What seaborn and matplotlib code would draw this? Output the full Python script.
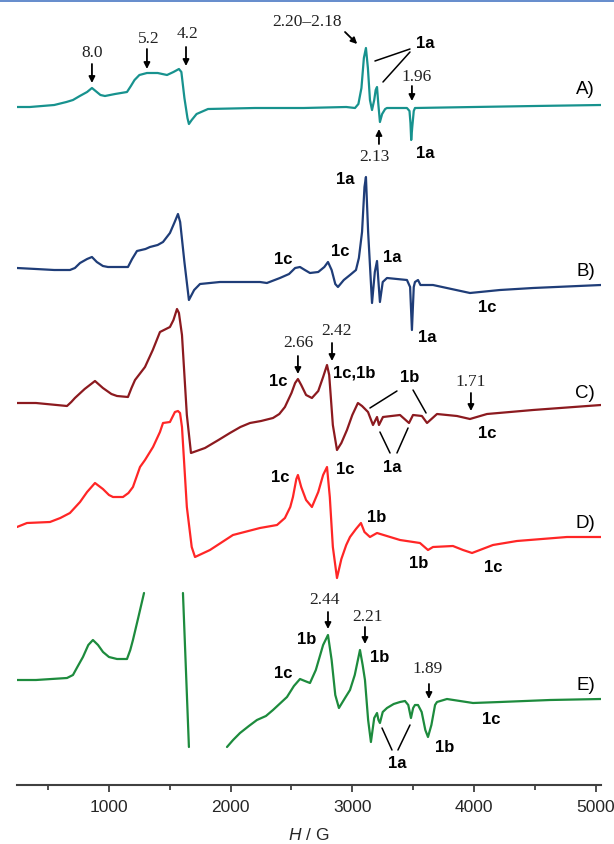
import numpy as np
import pandas as pd
import matplotlib
matplotlib.use("Agg")
import matplotlib.pyplot as plt
from matplotlib.lines import Line2D
import seaborn as sns

# EPR spectra A-E, field in G, signal in arbitrary units (relative to each baseline)
field_A = [244, 350, 450, 550, 650, 704, 760, 820, 860, 890, 930, 967, 1050, 1148, 1180, 1210, 1250, 1312,
           1400, 1477, 1530, 1575, 1595, 1620, 1645, 1657, 1680, 1720, 1814, 2200, 2600, 2950, 3022, 3050,
           3075, 3095, 3112, 3128, 3145, 3162, 3180, 3192, 3203, 3213, 3227, 3245, 3270, 3285, 3449, 3470,
           3478, 3484, 3492, 3505, 3515, 4000, 4500, 5044]
sig_A = [1, 1, 2, 3, 6, 8, 12, 16, 20, 17, 13, 12, 14, 16, 22, 28, 33, 35,
         35, 33, 36, 39, 36, 10, -10, -16, -12, -6, -1, 0, 0, 1, 0, 4,
         20, 50, 60, 40, 8, -2, 8, 18, 21, 5, -14, -6, -1, 0, 0, -3,
         -15, -32, -20, -3, 0, 1, 2, 3]

field_B = [244, 400, 550, 679, 720, 762, 820, 860, 900, 950, 992, 1100, 1156, 1190, 1230, 1300, 1337, 1400,
           1444, 1501, 1540, 1567, 1585, 1620, 1657, 1700, 1748, 1912, 2241, 2298, 2405, 2480, 2530, 2570,
           2610, 2652, 2720, 2770, 2800, 2830, 2860, 2882, 2930, 2981, 3030, 3054, 3080, 3100, 3112, 3130,
           3162, 3185, 3203, 3215, 3227, 3250, 3285, 3449, 3475, 3490, 3505, 3515, 3540, 3560, 3663, 3967,
           4214, 4485, 5044]
sig_B = [14, 13, 12, 12, 14, 19, 23, 25, 20, 16, 15, 15, 15, 23, 31, 33, 35, 37,
         40, 49, 60, 68, 60, 20, -18, -8, -2, 0, 0, -1, 4, 8, 14, 15,
         12, 9, 10, 15, 20, 12, -2, -5, 2, 7, 12, 24, 50, 95, 105, 50,
         -21, 10, 21, 0, -20, 0, 4, 2, -5, -48, -5, 0, 2, -3, -3, -11,
         -8, -6, -3]

field_C = [244, 400, 655, 690, 720, 800, 885, 950, 1020, 1066, 1156, 1185, 1214, 1296, 1360, 1419, 1501,
           1530, 1559, 1575, 1600, 1640, 1674, 1720, 1789, 1900, 1994, 2080, 2159, 2250, 2348, 2400, 2446,
           2500, 2530, 2553, 2580, 2620, 2668, 2720, 2760, 2792, 2810, 2840, 2874, 2910, 2956, 3000, 3046,
           3080, 3129, 3170, 3203, 3219, 3252, 3392, 3466, 3499, 3572, 3614, 3696, 3860, 3967, 4107, 4485,
           5044]
sig_C = [2, 2, -1, 3, 7, 16, 24, 17, 11, 9, 8, 17, 25, 38, 55, 73, 78,
         85, 96, 92, 70, -10, -48, -46, -43, -35, -28, -22, -18, -16, -13, -9, -2,
         12, 22, 26, 20, 10, 7, 14, 28, 40, 30, -20, -45, -38, -25, -10, 2,
         -1, -7, -20, -12, -20, -12, -10, -18, -10, -11, -18, -9, -11, -14, -9, -5,
         0]

field_D = [244, 326, 515, 600, 679, 762, 820, 885, 950, 1000, 1033, 1115, 1160, 1197, 1255, 1296, 1362,
           1419, 1444, 1501, 1542, 1567, 1584, 1600, 1640, 1680, 1707, 1830, 2019, 2241, 2381, 2446, 2490,
           2512, 2540, 2553, 2580, 2620, 2668, 2720, 2760, 2792, 2815, 2840, 2874, 2910, 2950, 2981, 3030,
           3071, 3100, 3145, 3203, 3392, 3556, 3622, 3663, 3827, 3910, 3984, 4156, 4353, 4764, 5044]
sig_D = [10, 14, 15, 19, 24, 35, 45, 54, 48, 42, 40, 40, 44, 50, 70, 77, 90,
         105, 114, 115, 125, 126, 124, 110, 30, -10, -20, -13, 2, 9, 12, 19, 30,
         40, 58, 62, 50, 37, 30, 45, 62, 70, 40, -10, -41, -22, -8, 0, 8,
         14, 5, 0, 4, -3, -6, -13, -10, -9, -13, -16, -8, -4, 0, 0]

# trace E is cut off around the strong 4.2 line: three separate pieces
field_E = [244, 400, 655, 704, 740, 786, 830, 868, 910, 951, 1000, 1066, 1148, 1175, 1197, 1240, 1288,
           1608, 1657,
           1970, 2020, 2077, 2150, 2216, 2290, 2348, 2410, 2463, 2520, 2570, 2610, 2652, 2700, 2760, 2800,
           2830, 2860, 2890, 2940, 2981, 3020, 3063, 3085, 3104, 3130, 3153, 3180, 3203, 3215, 3227, 3250,
           3285, 3340, 3392, 3433, 3460, 3482, 3500, 3515, 3540, 3570, 3600, 3622, 3650, 3680, 3696, 3778,
           3992, 4214, 4625, 5044]
sig_E = [20, 20, 22, 25, 33, 43, 55, 60, 55, 48, 43, 41, 41, 50, 60, 82, 107,
         107, -47,
         -47, -40, -33, -26, -20, -16, -10, -3, 3, 14, 21, 19, 17, 30, 55, 65,
         40, 5, -8, 2, 10, 25, 50, 35, 20, -20, -42, -18, -13, -20, -23, -12,
         -8, -4, -2, -1, -5, -18, -8, -5, -5, -12, -30, -37, -25, -5, -2, 1,
         -3, -2, 0, 1]
seg_E = [0] * 17 + [1] * 2 + [2] * 52

names = ["A", "B", "C", "D", "E"]
offsets = [-108, -282, -405, -537, -700]
colors = ["#17928e", "#1f3d78", "#8c1a1f", "#ff2626", "#1d8b3d"]

frames = []
for name, f, s, off, seg in zip(names,
                                [field_A, field_B, field_C, field_D, field_E],
                                [sig_A, sig_B, sig_C, sig_D, sig_E],
                                offsets,
                                [None, None, None, None, seg_E]):
    d = pd.DataFrame({"field": f, "signal": np.array(s) + off})
    d["trace"] = name
    d["seg"] = seg if seg is not None else 0
    frames.append(d)
df = pd.concat(frames, ignore_index=True)

sns.set_theme(style="white")
plt.rcParams["font.family"] = ["Liberation Sans", "DejaVu Sans"]
plt.rcParams["mathtext.fontset"] = "custom"
plt.rcParams["mathtext.it"] = "Liberation Sans:italic"
plt.rcParams["mathtext.rm"] = "Liberation Sans"

fig = plt.figure(figsize=(6.14, 8.44), dpi=100)
ax = fig.add_axes([17 / 614, 59 / 844, 584 / 614, 785 / 844])

sns.lineplot(data=df, x="field", y="signal", hue="trace", units="seg", estimator=None,
             palette=dict(zip(names, colors)), sort=False, legend=False, lw=1.6, ax=ax)

ax.set_xlim(244, 5044)
ax.set_ylim(-785, 0)
for sp in ["left", "right", "top"]:
    ax.spines[sp].set_visible(False)
ax.spines["bottom"].set_color("#404040")
ax.spines["bottom"].set_linewidth(1.5)
ax.set_yticks([])
ax.set_xticks([1000, 2000, 3000, 4000, 5000])
ax.set_xticks([500, 1500, 2500, 3500, 4500], minor=True)
ax.tick_params(axis="x", which="major", direction="out", length=5, width=1.3, color="#404040",
               labelsize=12.5, pad=6, bottom=True)
ax.tick_params(axis="x", which="minor", direction="out", length=3.5, width=1.3, color="#404040", bottom=True)
ax.set_xlabel("$H$ / G", fontsize=12.5)
ax.xaxis.set_label_coords(0.5, -0.054)
ax.set_ylabel("")

serif = dict(family="Liberation Serif", fontsize=12.5, color="#222222", ha="center", va="center")
bold = dict(fontsize=12, fontweight="bold", color="black", ha="center", va="center")
letter = dict(fontsize=13.5, color="black", ha="right", va="center")
arr = dict(arrowstyle="-|>", color="black", lw=1.3, mutation_scale=9, shrinkA=0, shrinkB=0)
seg_kw = dict(color="black", lw=1.1)


def arrow(x0, y0, x1, y1):
    ax.annotate("", xy=(x1, y1), xytext=(x0, y0), arrowprops=arr)


def tie(x0, y0, x1, y1):
    ax.plot([x0, x1], [y0, y1], **seg_kw)


# A
ax.text(860, -53, "8.0", **serif)
arrow(860, -64, 860, -83)
ax.text(1329, -39, "5.2", **serif)
arrow(1312, -49, 1312, -69)
ax.text(1649, -34, "4.2", **serif)
arrow(1633, -47, 1633, -66)
ax.text(2627, -22, "2.20\u20132.18", **serif)
arrow(2940, -32, 3040, -44)
ax.text(3597, -44, "1a", **bold)
tie(3474, -49, 3186, -61)
tie(3474, -52, 3252, -82)
ax.text(3531, -77, "1.96", **serif)
arrow(3490, -86, 3490, -101)
ax.text(3178, -157, "2.13", **serif)
arrow(3219, -144, 3219, -129)
ax.text(3597, -154, "1a", **bold)
ax.text(4994, -90, "A)", **letter)

# B
ax.text(2940, -180, "1a", **bold)
ax.text(2430, -260, "1c", **bold)
ax.text(2898, -252, "1c", **bold)
ax.text(3326, -258, "1a", **bold)
ax.text(4994, -272, "B)", **letter)
ax.text(4107, -308, "1c", **bold)
ax.text(3614, -338, "1a", **bold)

# C
ax.text(2553, -343, "2.66", **serif)
arrow(2553, -356, 2553, -374)
ax.text(2389, -382, "1c", **bold)
ax.text(2866, -331, "2.42", **serif)
arrow(2833, -343, 2833, -361)
ax.text(2841, -373, "1c,1b", **{**bold, "ha": "left"})
ax.text(3474, -377, "1b", **bold)
tie(3367, -391, 3145, -408)
tie(3499, -390, 3606, -413)
ax.text(3975, -382, "1.71", **serif)
arrow(3975, -393, 3975, -411)
ax.text(4994, -393, "C)", **letter)
ax.text(4107, -433, "1c", **bold)
ax.text(3326, -467, "1a", **bold)
tie(3227, -432, 3310, -453)
tie(3458, -428, 3367, -453)

# D
ax.text(2405, -477, "1c", **bold)
ax.text(2940, -470, "1c", **bold)
ax.text(3203, -517, "1b", **bold)
ax.text(4994, -523, "D)", **letter)
ax.text(3548, -564, "1b", **bold)
ax.text(4156, -567, "1c", **bold)

# E
ax.text(2775, -600, "2.44", **serif)
arrow(2800, -612, 2800, -629)
ax.text(3121, -617, "2.21", **serif)
arrow(3104, -627, 3104, -644)
ax.text(2627, -640, "1b", **bold)
ax.text(3227, -657, "1b", **bold)
ax.text(2430, -673, "1c", **bold)
ax.text(3622, -669, "1.89", **serif)
arrow(3630, -684, 3630, -699)
ax.text(4994, -685, "E)", **letter)
ax.text(4140, -720, "1c", **bold)
ax.text(3762, -748, "1b", **bold)
ax.text(3367, -763, "1a", **bold)
tie(3244, -728, 3326, -750)
tie(3474, -725, 3375, -750)

fig.add_artist(Line2D([0, 1], [0.9994, 0.9994], transform=fig.transFigure, color="#4a78c4", lw=1.2))

fig.savefig("out.png", dpi=100)
